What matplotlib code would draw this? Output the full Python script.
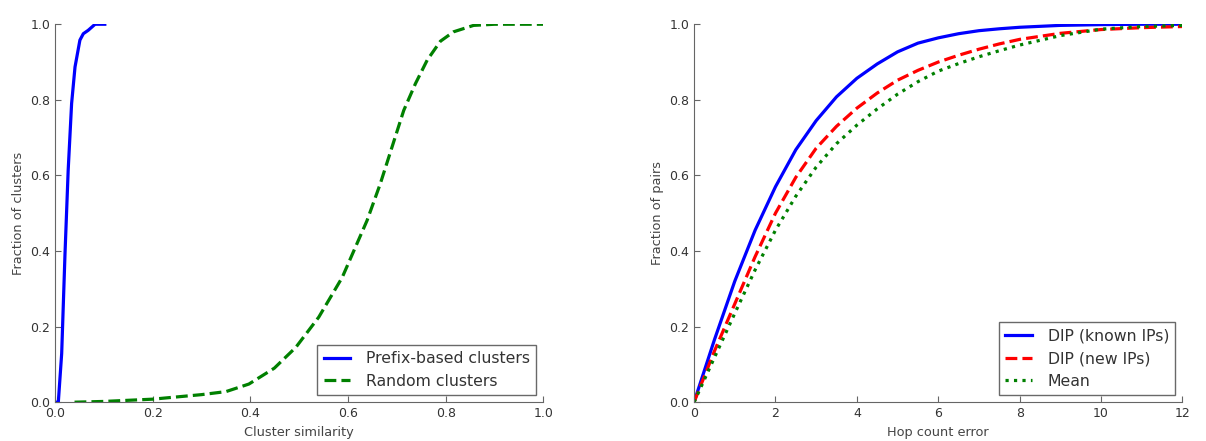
import numpy as np
import matplotlib.pyplot as plt

# left panel: CDF of cluster similarity
prefix_x = [0.0, 0.0068, 0.0137, 0.0205, 0.027, 0.034, 0.041, 0.051, 0.058, 0.068, 0.082, 0.102]
prefix_y = [0.0, 0.0, 0.129, 0.393, 0.614, 0.79, 0.887, 0.958, 0.975, 0.984, 1.0, 1.0]
random_x = [0.04, 0.1, 0.2, 0.3, 0.35, 0.397, 0.449, 0.493, 0.540, 0.588, 0.639, 0.666, 0.690,
            0.714, 0.738, 0.762, 0.789, 0.816, 0.857, 0.9, 1.0]
random_y = [0.0, 0.002, 0.008, 0.02, 0.028, 0.048, 0.09, 0.145, 0.225, 0.33, 0.481, 0.578, 0.675,
            0.772, 0.843, 0.905, 0.955, 0.98, 0.997, 1.0, 1.0]

# right panel: CDF of hop count error
hop_x = [0, 0.5, 1, 1.5, 2, 2.5, 3, 3.5, 4, 4.5, 5, 5.5, 6, 6.5, 7, 7.5, 8, 9, 10, 11, 12]
known_y = [0, 0.165, 0.32, 0.455, 0.57, 0.668, 0.745, 0.808, 0.857, 0.895, 0.927, 0.95, 0.964,
           0.975, 0.983, 0.988, 0.992, 0.997, 0.999, 1.0, 1.0]
new_y = [0, 0.135, 0.26, 0.385, 0.5, 0.595, 0.672, 0.73, 0.778, 0.818, 0.852, 0.878, 0.9,
         0.918, 0.934, 0.948, 0.96, 0.976, 0.986, 0.991, 0.994]
mean_y = [0, 0.118, 0.235, 0.35, 0.455, 0.545, 0.622, 0.684, 0.733, 0.776, 0.815, 0.848, 0.876,
          0.896, 0.914, 0.93, 0.945, 0.97, 0.987, 0.994, 0.997]


def style_axes(ax):
    for side in ['top', 'right']:
        ax.spines[side].set_visible(False)
    for side in ['left', 'bottom']:
        ax.spines[side].set_color('#666666')
    ax.tick_params(direction='in', length=4, colors='#666666', labelcolor='#333333', labelsize=9,
                   top=False, right=False)


def add_legend(ax):
    leg = ax.legend(loc='lower right', fontsize=11.3, fancybox=False, borderaxespad=0.45,
                    handlelength=1.7, handletextpad=1.0)
    leg.get_frame().set_edgecolor('#444444')
    leg.get_frame().set_linewidth(1.0)
    for t in leg.get_texts():
        t.set_color('#333333')


def main():
    fig = plt.figure(figsize=(12.06, 4.41), dpi=100)
    ax1 = fig.add_axes([0.0456, 0.088, 0.405, 0.857])
    ax2 = fig.add_axes([0.5755, 0.088, 0.405, 0.857])

    ax1.plot(prefix_x, prefix_y, color='blue', linewidth=2.3, label='Prefix-based clusters')
    ax1.plot(random_x, random_y, color='green', linewidth=2.3, linestyle='--', label='Random clusters')
    ax1.set_xlim(0, 1)
    ax1.set_ylim(0, 1)
    ax1.set_xticks(np.arange(0, 1.01, 0.2))
    ax1.set_yticks(np.arange(0, 1.01, 0.2))
    ax1.set_xlabel('Cluster similarity', fontsize=9.3, color='#444444')
    ax1.set_ylabel('Fraction of clusters', fontsize=9.3, color='#444444')
    style_axes(ax1)
    add_legend(ax1)

    ax2.plot(hop_x, known_y, color='blue', linewidth=2.3, label='DIP (known IPs)')
    ax2.plot(hop_x, new_y, color='red', linewidth=2.3, linestyle='--', label='DIP (new IPs)')
    ax2.plot(hop_x, mean_y, color='green', linewidth=2.3, linestyle=':', label='Mean')
    ax2.set_xlim(0, 12)
    ax2.set_ylim(0, 1)
    ax2.set_xticks(range(0, 13, 2))
    ax2.set_yticks(np.arange(0, 1.01, 0.2))
    ax2.set_xlabel('Hop count error', fontsize=9.3, color='#444444')
    ax2.set_ylabel('Fraction of pairs', fontsize=9.3, color='#444444')
    style_axes(ax2)
    add_legend(ax2)

    plt.savefig('out.png', dpi=100)


if __name__ == "__main__":
    main()
